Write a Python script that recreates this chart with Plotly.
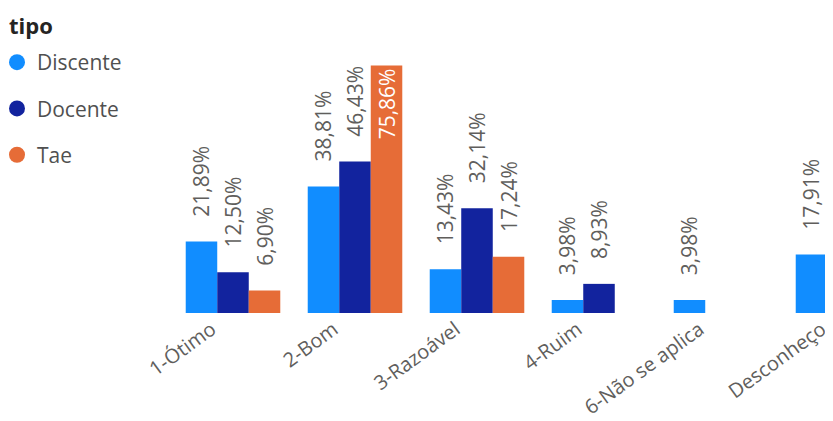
import plotly.graph_objects as go

categories = ["1-Ótimo", "2-Bom", "3-Razoável", "4-Ruim", "6-Não se aplica", "Desconheço"]
series_names = ["Discente", "Docente", "Tae"]
discente = [21.89, 38.81, 13.43, 3.98, 3.98, 17.91]
docente = [12.50, 46.43, 32.14, 8.93, None, None]
tae = [6.90, 75.86, 17.24, None, None, None]
colors = ["#118DFF", "#12239E", "#E66C37"]
legend_title = "tipo"

FONT = "Open Sans"
LABEL_GRAY = "#605E5C"
idx = list(range(len(categories)))
max_val = max(v for s in (discente, docente, tae) for v in s if v is not None)

# figure geometry (page body adds an 8px margin)
W, H = 825, 413
M_L, M_R, M_T, M_B = 164, 0, 44, 108
PLOT_W = W - M_L - M_R
PLOT_H = H - M_T - M_B

fig = go.Figure()
for name, vals, col in zip(series_names, [discente, docente, tae], colors):
    positions = ["inside" if (v is not None and v == max_val) else "outside" for v in vals]
    fig.add_trace(go.Bar(
        x=idx, y=vals, name=name, marker_color=col, marker_line_width=0,
        texttemplate="\u00a0\u00a0\u00a0\u00a0%{y:.2f}%", textposition=positions, textangle=-90,
        insidetextanchor="end", constraintext="none", cliponaxis=False,
        outsidetextfont=dict(family=FONT, size=21, color=LABEL_GRAY),
        insidetextfont=dict(family=FONT, size=21, color="white"),
        showlegend=False, hoverinfo="skip",
    ))
    # legend entry with a round marker
    fig.add_trace(go.Scatter(
        x=[None], y=[None], mode="markers", name=name, legendgroup=name,
        marker=dict(symbol="circle", size=18, color=col),
    ))

SHIFT = 0.2
BAND_PX = PLOT_W / 5.418
fig.update_layout(
    width=W, height=H,
    margin=dict(l=M_L, r=M_R, t=M_T, b=M_B),
    paper_bgcolor="white", plot_bgcolor="white",
    barmode="group", bargap=0.225, bargroupgap=0,
    separators=",.",
    font=dict(family=FONT, color=LABEL_GRAY),
    xaxis=dict(
        range=[-0.5, 4.918], showgrid=False, zeroline=False, showline=False,
        tickmode="array", tickvals=[i - SHIFT for i in idx], ticktext=categories,
        ticklabelshift=int(round(SHIFT * BAND_PX)) - 21, tickangle=-36, ticks="",
        ticklabeloverflow="allow",
        tickfont=dict(family=FONT, size=20, color=LABEL_GRAY),
    ),
    yaxis=dict(range=[0, 80], visible=False, showgrid=False, zeroline=False),
    legend=dict(
        x=0, y=1 - 34 / H, xref="container", yref="container",
        xanchor="left", yanchor="top", indentation=-11,
        font=dict(family=FONT, size=21, color="#505050"),
        tracegroupgap=16, itemwidth=30, bgcolor="rgba(0,0,0,0)",
    ),
    annotations=[dict(
        text=f"<b>{legend_title}</b>", xref="paper", yref="paper",
        x=-M_L / PLOT_W, y=1 + (M_T - 17) / PLOT_H, borderpad=0,
        xanchor="left", yanchor="middle", showarrow=False,
        font=dict(family=FONT, size=22, color="#252423"),
    )],
)

fig.write_html("out.html")
